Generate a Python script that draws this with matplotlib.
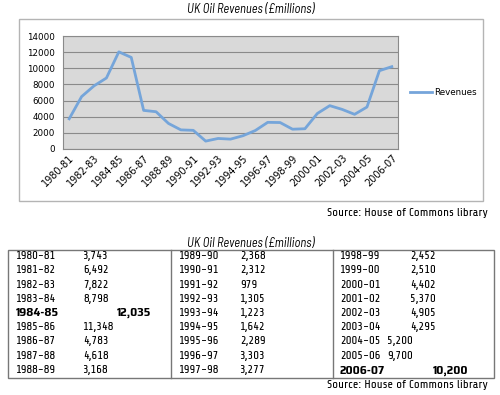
import matplotlib
matplotlib.use('Agg')
import matplotlib.pyplot as plt
from matplotlib.patches import Rectangle
from matplotlib.lines import Line2D

# data
years = ['1980-81', '1981-82', '1982-83', '1983-84', '1984-85', '1985-86', '1986-87',
         '1987-88', '1988-89', '1989-90', '1990-91', '1991-92', '1992-93', '1993-94',
         '1994-95', '1995-96', '1996-97', '1997-98', '1998-99', '1999-00', '2000-01',
         '2001-02', '2002-03', '2003-04', '2004-05', '2005-06', '2006-07']
revenues = [3743, 6492, 7822, 8798, 12035, 11348, 4783, 4618, 3168, 2368, 2312, 979,
            1305, 1223, 1642, 2289, 3303, 3277, 2452, 2510, 4402, 5370, 4905, 4295,
            5200, 9700, 10200]
yticks = list(range(0, 14001, 2000))
bold_rows = ['1984-85', '2006-07']

title = 'UK Oil Revenues (£millions)'
source = 'Source: House of Commons library'

narrow = ['Share Tech', 'Saira Condensed', 'DejaVu Sans']
narrow_bold = ['Saira SemiCondensed', 'Roboto Condensed', 'DejaVu Sans']
narrow_it = ['Barlow Semi Condensed', 'Roboto Condensed', 'DejaVu Sans']
line_col = '#75a5da'

W, H = 500, 395
fig = plt.figure(figsize=(W / 100, H / 100), dpi=100)

# background axes in pixel coordinates for boxes and table
bg = fig.add_axes([0, 0, 1, 1])
bg.set_xlim(0, W)
bg.set_ylim(H, 0)
bg.axis('off')

# chart
bg.text(251, 9, title, ha='center', va='center', fontsize=9, style='italic', family=narrow_it)
bg.add_patch(Rectangle((19, 19), 464, 182, fill=False, edgecolor='#b4b4b4', lw=1))

ax = fig.add_axes([63 / W, 1 - 149 / H, 335 / W, 113 / H])
ax.set_facecolor('#d9d9d9')
x = list(range(len(years)))
ax.plot(x, revenues, color=line_col, lw=2, label='Revenues')
ax.set_xlim(-0.5, len(years) - 0.5)
ax.set_ylim(0, 14000)
ax.set_yticks(yticks)
ax.grid(axis='y', color='#8a8a8a', lw=0.8)
ax.set_axisbelow(True)
ax.set_xticks(x[::2])
ax.set_xticklabels(years[::2], rotation=45, ha='right', rotation_mode='anchor', fontsize=7)
ax.tick_params(axis='x', length=0, pad=3)
ax.tick_params(axis='y', length=0, labelsize=6.3, pad=6)
for s in ax.spines.values():
    s.set_color('#8a8a8a')
    s.set_linewidth(0.8)
ax.legend(loc='center left', bbox_to_anchor=(1.012, 0.5), frameon=False, fontsize=6.3,
          handlelength=2.5, handletextpad=0.3)

bg.text(488, 213, source, ha='right', va='center', fontsize=8.6, family=narrow)

# table
bg.text(251, 243, title, ha='center', va='center', fontsize=9, style='italic', family=narrow_it)
bg.add_patch(Rectangle((8, 250), 486, 128, fill=False, edgecolor='#777777', lw=1))
for xd in (171, 333):
    bg.add_line(Line2D([xd, xd], [250, 378], color='#777777', lw=1))

col_year_x = [16, 179, 340]
col_val_x = [83, 240, 410]
special_val_x = {'1984-85': 117, '2004-05': 387, '2005-06': 387, '2006-07': 433}
for i, (yr, v) in enumerate(zip(years, revenues)):
    c, r = divmod(i, 9)
    yy = 256 + r * 14.25
    if yr in bold_rows:
        kw = dict(va='center', ha='left', family=narrow_bold, fontsize=8.8, weight='bold')
    else:
        kw = dict(va='center', ha='left', family=narrow, fontsize=8.8)
    bg.text(col_year_x[c], yy, yr, **kw)
    bg.text(special_val_x.get(yr, col_val_x[c]), yy, f'{v:,}', **kw)

bg.text(488, 385, source, ha='right', va='center', fontsize=8.6, family=narrow)

fig.savefig('out.png', dpi=100)
